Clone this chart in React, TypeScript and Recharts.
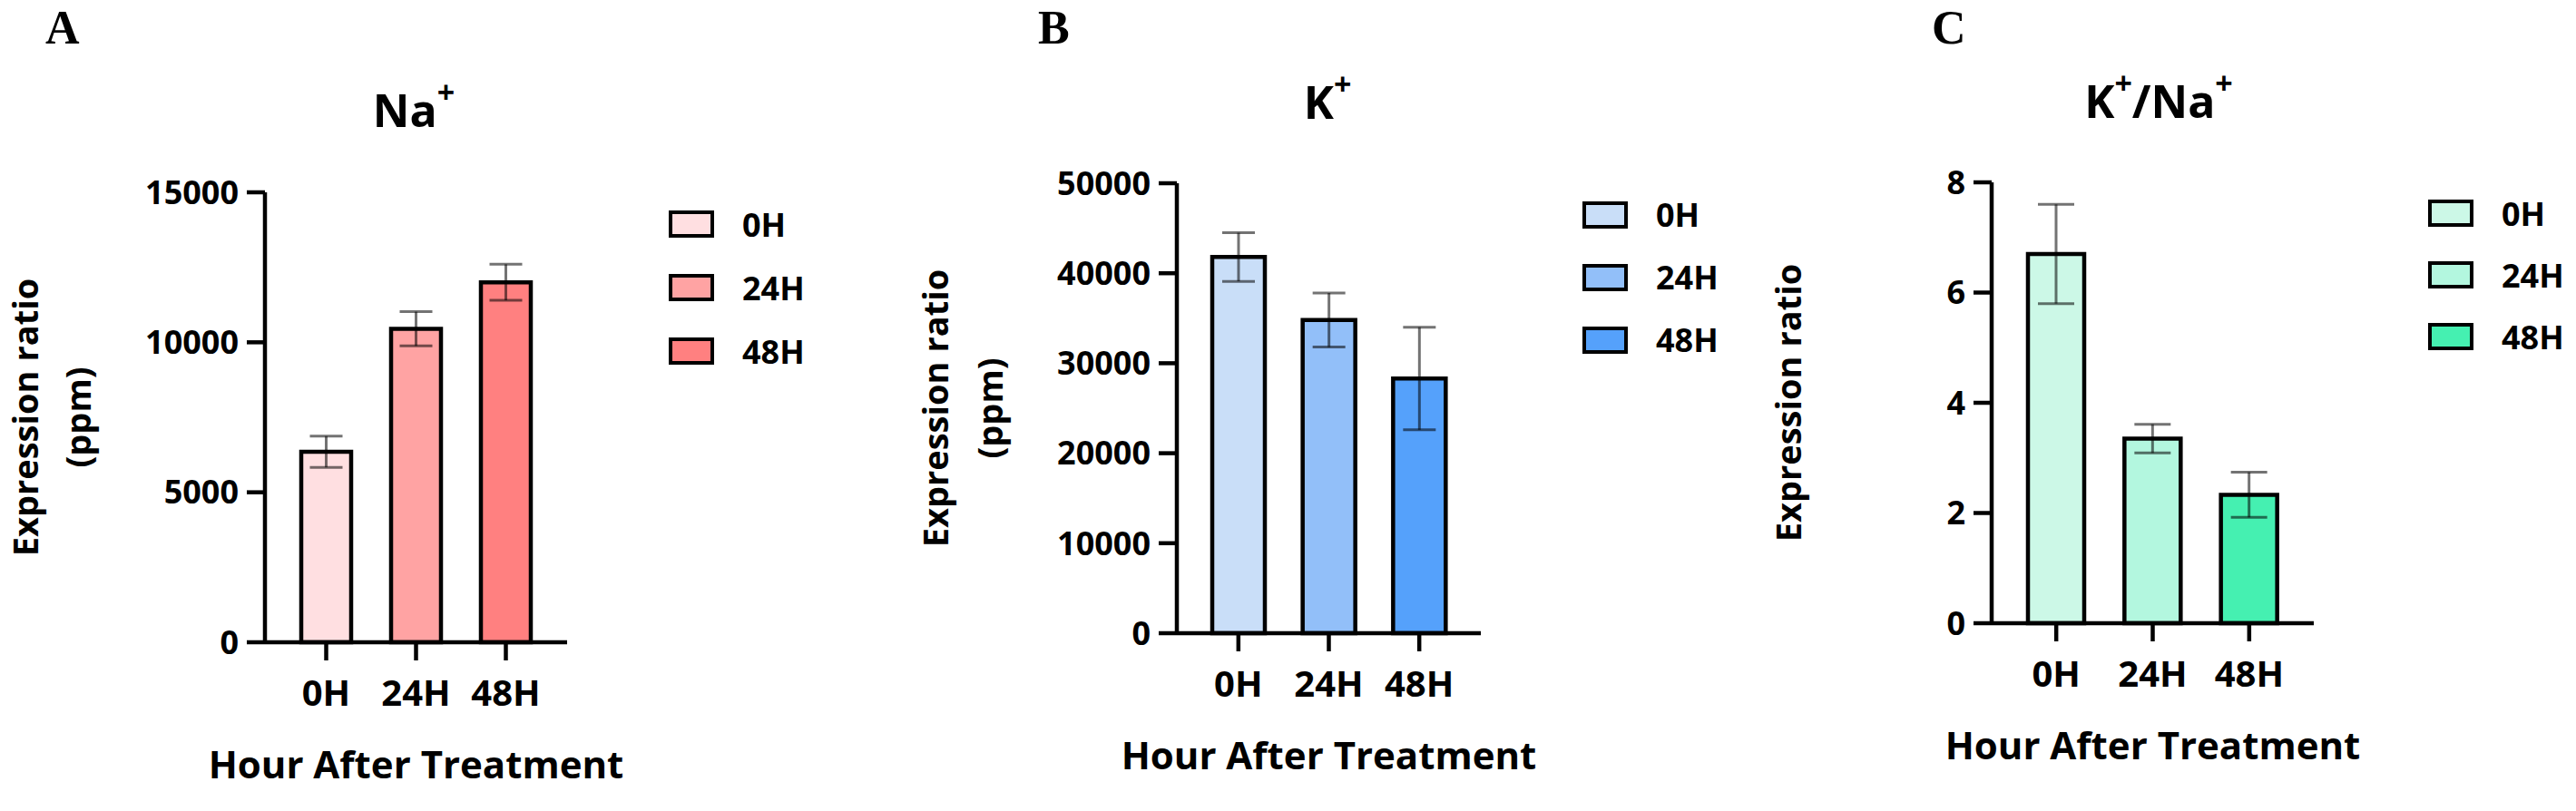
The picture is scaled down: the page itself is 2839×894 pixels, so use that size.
import { BarChart, Bar, Cell, XAxis, YAxis, ErrorBar, Legend } from "recharts";

const hours = ["0H", "24H", "48H"];

// Na+ content (ppm), mean and SD
const naMean = [6350, 10450, 12000];
const naErr = [520, 570, 600];
const naTicks = [0, 5000, 10000, 15000];

// K+ content (ppm)
const kMean = [41800, 34800, 28300];
const kErr = [2700, 3000, 5700];
const kTicks = [0, 10000, 20000, 30000, 40000, 50000];

// K+/Na+ ratio
const ratioMean = [6.7, 3.35, 2.33];
const ratioErr = [0.9, 0.26, 0.41];
const ratioTicks = [0, 2, 4, 6, 8];

const naColors = ["#FFDFE1", "#FFA3A3", "#FF8080"];
const kColors = ["#C9DEF8", "#92BFF9", "#55A1FB"];
const ratioColors = ["#CCF8E7", "#B3F7DF", "#45F0B1"];

const FONT = "'Open Sans', 'Noto Sans', sans-serif";
const LINE = 4.5;

const rows = (means: number[], errs: number[]) =>
  hours.map((hour, i) => ({ hour, value: means[i], err: errs[i] }));

function YTitle({ viewBox, lines, offsets }: any) {
  const right = viewBox.x + viewBox.width;
  const cy = viewBox.y + viewBox.height / 2;
  return (
    <g>
      {lines.map((line: string, i: number) => {
        const bx = right - offsets[i];
        return (
          <text
            key={line}
            x={bx}
            y={cy}
            transform={`rotate(-90 ${bx} ${cy})`}
            textAnchor="middle"
            fill="#000"
            style={{ fontFamily: FONT, fontSize: 38, fontWeight: 700 }}
          >
            {line}
          </text>
        );
      })}
    </g>
  );
}

function LegendBlock({ colors, rowHeight }: { colors: string[]; rowHeight: number }) {
  return (
    <div style={{ display: "flex", flexDirection: "column" }}>
      {hours.map((h, i) => (
        <div key={h} style={{ display: "flex", alignItems: "center", height: rowHeight }}>
          <span
            style={{
              width: 50,
              height: 30,
              boxSizing: "border-box",
              border: `${LINE}px solid #000`,
              background: colors[i],
            }}
          />
          <span style={{ marginLeft: 31, fontFamily: FONT, fontSize: 36, fontWeight: 700, color: "#000" }}>{h}</span>
        </div>
      ))}
    </div>
  );
}

function Panel(p: any) {
  const data = rows(p.means, p.errs);
  const tickStyle = { fill: "#000", fontSize: p.tickFont, fontWeight: 700, fontFamily: FONT };
  return (
    <div style={{ position: "absolute", left: p.left, top: 0 }}>
      <BarChart
        width={p.width}
        height={894}
        data={data}
        margin={{ top: p.top, right: p.right, bottom: p.bottom, left: 0 }}
      >
        <XAxis
          dataKey="hour"
          type="category"
          interval={0}
          height={186}
          padding={{ left: 18, right: 18 }}
          tickSize={20}
          tickMargin={22}
          axisLine={{ stroke: "#000", strokeWidth: LINE }}
          tickLine={{ stroke: "#000", strokeWidth: LINE }}
          tick={{ ...tickStyle, fontSize: 40 }}
          label={{
            value: "Hour After Treatment",
            position: "insideBottom",
            offset: 36,
            fill: "#000",
            style: { fontFamily: FONT, fontSize: 42, fontWeight: 700 },
          }}
        />
        <YAxis
          width={p.axisWidth}
          domain={[0, p.ticks[p.ticks.length - 1]]}
          ticks={p.ticks}
          interval={0}
          tickSize={20}
          tickMargin={9}
          axisLine={{ stroke: "#000", strokeWidth: LINE }}
          tickLine={{ stroke: "#000", strokeWidth: LINE }}
          tick={tickStyle}
          label={<YTitle lines={p.yLines} offsets={p.yOffsets} />}
        />
        <Legend
          layout="vertical"
          align="center"
          verticalAlign="middle"
          wrapperStyle={{ left: p.legendLeft, top: p.top, width: 160 }}
          content={() => <LegendBlock colors={p.colors} rowHeight={p.rowHeight} />}
        />
        <Bar dataKey="value" barSize={p.barSize} stroke="#000" strokeWidth={LINE} isAnimationActive={false}>
          {data.map((d, i) => (
            <Cell key={d.hour} fill={p.colors[i]} />
          ))}
          <ErrorBar
            dataKey="err"
            direction="y"
            width={p.capWidth}
            stroke="rgba(0,0,0,0.55)"
            strokeWidth={3}
            isAnimationActive={false}
          />
        </Bar>
      </BarChart>
    </div>
  );
}

function Headings() {
  const letter = { fontFamily: "'Liberation Serif', 'Times New Roman', serif", fontSize: 52, fontWeight: 700 };
  const title = { fontFamily: FONT, fontSize: 50, fontWeight: 700 };
  const sup = { fontSize: 34 };
  return (
    <svg width={2839} height={894} style={{ position: "absolute", left: 0, top: 0, pointerEvents: "none" }}>
      <text x={50} y={48} style={letter}>A</text>
      <text x={1144} y={48} style={letter}>B</text>
      <text x={2129} y={48} style={letter}>C</text>

      <text x={456} y={140} textAnchor="middle" style={title}>
        Na<tspan dy={-26} style={sup}>+</tspan>
      </text>
      <text x={1463} y={131} textAnchor="middle" style={title}>
        K<tspan dy={-26} style={sup}>+</tspan>
      </text>
      <text x={2379} y={130} textAnchor="middle" style={title}>
        K<tspan dy={-26} style={sup}>+</tspan>
        <tspan dy={26}>/Na</tspan>
        <tspan dy={-26} style={sup}>+</tspan>
      </text>
    </svg>
  );
}

export default function App() {
  return (
    <div style={{ position: "absolute", left: 0, top: 0, width: 2839, height: 894, background: "#fff", overflow: "hidden" }}>
      <Panel
        left={0}
        width={950}
        top={212}
        bottom={0}
        right={325}
        axisWidth={292}
        means={naMean}
        errs={naErr}
        ticks={naTicks}
        colors={naColors}
        barSize={55}
        capWidth={18}
        tickFont={36}
        yLines={["Expression ratio", "(ppm)"]}
        yOffsets={[250, 192]}
        legendLeft={737}
        rowHeight={70}
      />
      <Panel
        left={950}
        width={950}
        top={202}
        bottom={10}
        right={268}
        axisWidth={347}
        means={kMean}
        errs={kErr}
        ticks={kTicks}
        colors={kColors}
        barSize={58}
        capWidth={18}
        tickFont={36}
        yLines={["Expression ratio", "(ppm)"]}
        yOffsets={[252, 192]}
        legendLeft={794}
        rowHeight={69}
      />
      <Panel
        left={1900}
        width={939}
        top={201}
        bottom={21}
        right={289}
        axisWidth={295}
        means={ratioMean}
        errs={ratioErr}
        ticks={ratioTicks}
        colors={ratioColors}
        barSize={62}
        capWidth={20}
        tickFont={36}
        yLines={["Expression ratio"]}
        yOffsets={[210]}
        legendLeft={776}
        rowHeight={68}
      />
      <Headings />
    </div>
  );
}
